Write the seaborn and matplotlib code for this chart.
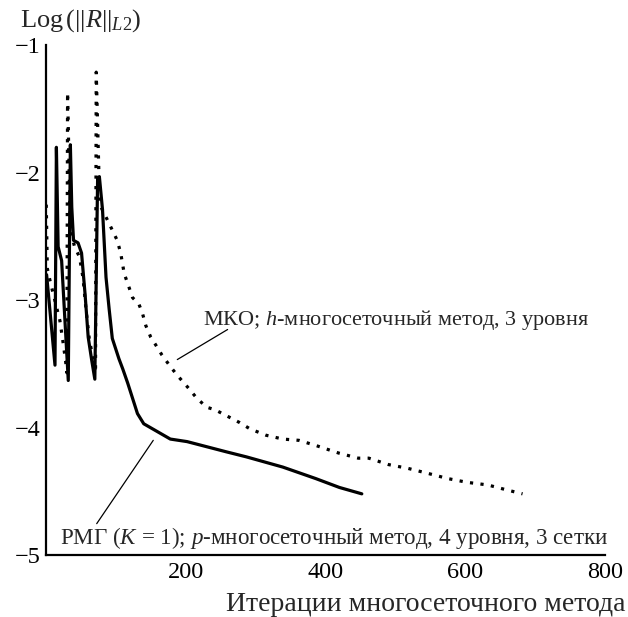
import matplotlib
matplotlib.use("Agg")
import matplotlib.pyplot as plt
import seaborn as sns
import pandas as pd

# ---- data ----
rmg_x = [1, 13, 15, 17.5, 22.5, 32, 35, 37, 39.5, 46, 51, 56, 60.5, 65.5, 70,
         74, 76.5, 81, 86, 90.5, 95, 104.5, 110, 117, 124, 131, 140, 159, 178,
         202, 230, 258, 287, 339, 386, 420, 452]
rmg_y = [-2.80, -3.51, -1.80, -2.58, -2.69, -3.63, -1.78, -2.27, -2.53, -2.55,
         -2.63, -2.95, -3.29, -3.47, -3.62, -2.04, -2.03, -2.29, -2.82, -3.07,
         -3.30, -3.46, -3.54, -3.65, -3.77, -3.89, -3.97, -4.03, -4.09, -4.11,
         -4.15, -4.19, -4.23, -4.31, -4.40, -4.47, -4.52]

mko_x = [0.5, 2, 6, 15, 20, 24, 28, 30, 31, 35, 41, 48, 53, 57, 62, 67, 71,
         72, 77, 88, 95, 102, 107, 112, 119, 124, 133, 138, 143, 150, 157, 166,
         178, 188, 204, 216, 230, 242, 256, 277, 292, 315, 339, 362, 386, 419,
         447, 462, 490, 518, 547, 575, 603, 632, 660, 682]
mko_y = [-2.25, -2.75, -2.85, -3.05, -3.16, -3.31, -3.47, -3.57, -1.37, -2.45,
         -2.58, -2.66, -2.82, -3.05, -3.30, -3.45, -3.57, -1.21, -2.25, -2.37,
         -2.45, -2.53, -2.63, -2.79, -2.90, -2.98, -3.03, -3.10, -3.20, -3.29,
         -3.35, -3.43, -3.52, -3.59, -3.69, -3.77, -3.84, -3.86, -3.90, -3.96,
         -4.01, -4.06, -4.09, -4.10, -4.14, -4.20, -4.24, -4.24, -4.29, -4.32,
         -4.36, -4.40, -4.43, -4.45, -4.49, -4.52]

x_ticks = [200, 400, 600, 800]
y_ticks = [-1, -2, -3, -4, -5]

label_mko = "МКО; $h$-многосеточный метод, 3 уровня"
label_rmg = "РМГ ($K$ = 1); $p$-многосеточный метод, 4 уровня, 3 сетки"
x_title = "Итерации многосеточного метода"
y_title = r"Log$\,(||R||_{L2})$"

# ---- style ----
sns.set_style("white")
plt.rcParams["font.family"] = ["Liberation Serif", "DejaVu Serif"]
plt.rcParams["mathtext.fontset"] = "custom"
plt.rcParams["mathtext.rm"] = "Liberation Serif"
plt.rcParams["mathtext.it"] = "Liberation Serif:italic"
plt.rcParams["axes.unicode_minus"] = True

FS_TICK = 17.5
FS_ANN1 = 16.0
FS_ANN2 = 16.6
FS_XT = 20
FS_YT = 19

fig = plt.figure(figsize=(6.28, 6.17), dpi=100)
ax = fig.add_axes([0.0731, 0.1005, 0.8903, 0.8259])

df_rmg = pd.DataFrame({"x": rmg_x, "y": rmg_y})
df_mko = pd.DataFrame({"x": mko_x, "y": mko_y})

sns.lineplot(data=df_rmg, x="x", y="y", ax=ax, color="black", lw=2.3,
             sort=False, estimator=None, solid_joinstyle="round")
sns.lineplot(data=df_mko, x="x", y="y", ax=ax, color="black", lw=2.3,
             sort=False, estimator=None, linestyle=(0, (1, 2.3)),
             dash_capstyle="butt")

ax.set_xlim(0, 800)
ax.set_ylim(-5, -1)
ax.set_xticks(x_ticks)
ax.set_yticks(y_ticks)
ax.set_xticklabels([str(v) for v in x_ticks])
ax.set_yticklabels(["\u2212" + str(abs(v)) for v in y_ticks])
ax.set_xlabel("")
ax.set_ylabel("")

for s in ["top", "right"]:
    ax.spines[s].set_visible(False)
for s in ["left", "bottom"]:
    ax.spines[s].set_linewidth(1.6)
    ax.spines[s].set_color("black")

ax.tick_params(axis="both", direction="in", length=7, width=1.6,
               colors="black", labelsize=FS_TICK)
ax.tick_params(axis="x", pad=5)
ax.tick_params(axis="y", pad=4)
ax.set_facecolor("white")

# annotations
ax.annotate("", xy=(188, -3.466), xytext=(260, -3.23),
            arrowprops=dict(arrowstyle="-", lw=0.9, color="black",
                            shrinkA=0, shrinkB=0))
ax.text(224.8, -3.196, label_mko, fontsize=FS_ANN1, ha="left", va="baseline")

ax.annotate("", xy=(153.6, -4.10), xytext=(72.7, -4.754),
            arrowprops=dict(arrowstyle="-", lw=0.9, color="black",
                            shrinkA=0, shrinkB=0))
ax.text(20.2, -4.911, label_rmg, fontsize=FS_ANN2, ha="left", va="baseline")

fig.text(626 / 628, (617 - 611) / 617, x_title, fontsize=FS_XT,
         ha="right", va="baseline")
fig.text(20 / 628, (617 - 27) / 617, y_title, fontsize=FS_YT,
         ha="left", va="baseline")

fig.savefig("out.png", dpi=100, facecolor="white")
